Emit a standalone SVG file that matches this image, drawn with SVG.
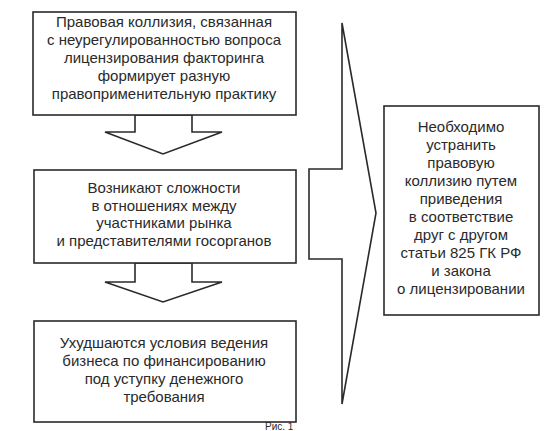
<svg xmlns="http://www.w3.org/2000/svg" width="550" height="431" viewBox="0 0 550 431">
<style>
.box{fill:#fff;stroke:#2a2a2a;stroke-width:1.6}
.t{font-family:"Liberation Sans",Arial,sans-serif;font-size:15px;fill:#2a2a2a;text-anchor:middle}
.cap{font-family:"Liberation Sans",Arial,sans-serif;font-size:10px;fill:#2a2a2a}
</style>
<rect width="550" height="431" fill="#fff"/>
<g id="connectors">
<polygon class="box" points="135,115 192,115 192,132 222,132 163,154 105,132 135,132"/>
<polygon class="box" points="135,263 192,263 192,282 222,282 163,302 105,282 135,282"/>
<polygon class="box" points="342,23 376,213 342,404 342,259 309,259 309,169 342,169"/>
</g>
<g id="node1">
<rect class="box" x="33" y="12" width="263" height="103"/>
<text class="t" x="164" y="27">Правовая коллизия, связанная</text>
<text class="t" x="164" y="45">с неурегулированностью вопроса</text>
<text class="t" x="164" y="63">лицензирования факторинга</text>
<text class="t" x="164" y="81">формирует разную</text>
<text class="t" x="164" y="99">правоприменительную практику</text>
</g>
<g id="node2">
<rect class="box" x="34" y="170" width="262" height="93"/>
<text class="t" x="164" y="193">Возникают сложности</text>
<text class="t" x="164" y="211">в отношениях между</text>
<text class="t" x="164" y="228">участниками рынка</text>
<text class="t" x="164" y="246">и представителями госорганов</text>
</g>
<g id="node3">
<rect class="box" x="34" y="321" width="262" height="101"/>
<text class="t" x="164" y="348">Ухудшаются условия ведения</text>
<text class="t" x="164" y="366">бизнеса по финансированию</text>
<text class="t" x="164" y="384">под уступку денежного</text>
<text class="t" x="164" y="402">требования</text>
</g>
<g id="node4">
<rect class="box" x="384" y="106" width="155" height="209"/>
<text class="t" x="461" y="132">Необходимо</text>
<text class="t" x="461" y="150">устранить</text>
<text class="t" x="461" y="168">правовую</text>
<text class="t" x="461" y="186">коллизию путем</text>
<text class="t" x="461" y="204">приведения</text>
<text class="t" x="461" y="222">в соответствие</text>
<text class="t" x="461" y="240">друг с другом</text>
<text class="t" x="461" y="258">статьи 825 ГК РФ</text>
<text class="t" x="461" y="276">и закона</text>
<text class="t" x="461" y="294">о лицензировании</text>
</g>
<text class="cap" x="265" y="430">Рис. 1</text>
</svg>
